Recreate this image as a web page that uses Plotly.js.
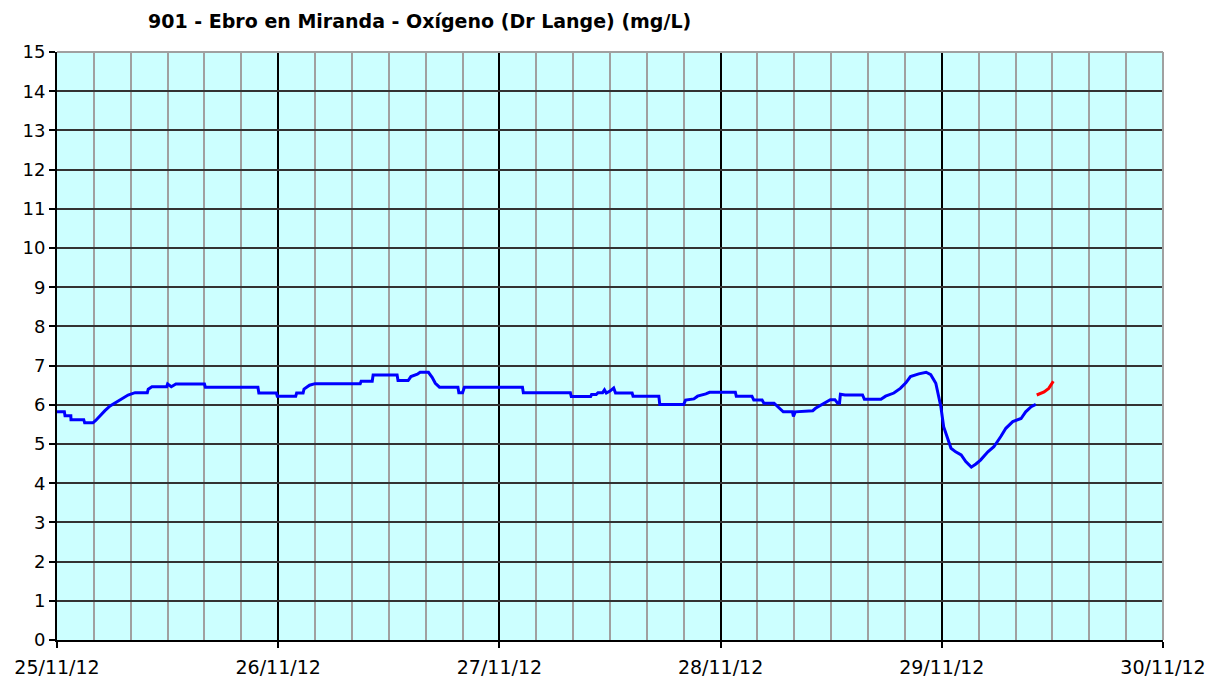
<!DOCTYPE html>
<html>
<head>
<meta charset="utf-8">
<script src="https://cdn.plot.ly/plotly-3.0.1.min.js"></script>
<style>html,body{margin:0;padding:0;background:#fff;}#chart{width:1222px;height:680px;}</style>
</head>
<body>
<div id="chart"></div>
<script>
// Hours after 25/11/2012 00:00 and oxygen (mg/L)
const startDate = "2012-11-25";
const blueHours = [0,0.8,0.87,1.5,1.52,2.9,3.0,3.9,4.2,4.67,5.2,5.76,6.3,6.84,7.3,7.71,8.47,9.8,9.9,10.3,11.9,12.0,12.4,12.9,16.0,16.1,21.8,21.9,23.8,23.9,25.9,26.0,26.7,26.8,27.4,28.0,32.9,33.0,34.2,34.3,36.9,37.0,38.1,38.4,39.1,39.4,40.3,40.7,41.05,41.5,43.5,43.6,44.0,44.2,50.5,50.6,55.7,55.8,57.9,58.0,58.5,58.7,59.2,59.4,59.6,60.0,60.4,60.6,62.4,62.5,65.3,65.4,68.0,68.2,69.1,69.5,70.4,70.8,73.6,73.7,75.4,75.6,76.5,76.7,77.8,78.4,78.8,79.8,79.9,80.1,82.0,82.3,83.4,83.9,84.4,84.7,84.9,85.0,85.5,87.4,87.6,89.4,89.9,90.8,91.5,92.1,92.6,93.5,94.3,94.8,95.35,95.6,95.9,96.2,96.7,97.0,97.5,98.1,98.6,99.2,99.7,100.2,101.0,101.65,102.4,102.95,103.7,104.6,105.1,105.7,106.2];
const blueOxygen = [5.82,5.82,5.72,5.72,5.62,5.62,5.54,5.54,5.6,5.72,5.85,5.97,6.05,6.12,6.2,6.25,6.31,6.31,6.4,6.46,6.46,6.53,6.46,6.53,6.53,6.45,6.45,6.3,6.3,6.22,6.22,6.3,6.3,6.4,6.5,6.54,6.54,6.6,6.6,6.76,6.76,6.62,6.62,6.72,6.78,6.83,6.83,6.7,6.55,6.45,6.45,6.31,6.31,6.45,6.45,6.31,6.31,6.21,6.21,6.26,6.26,6.31,6.31,6.38,6.3,6.35,6.43,6.3,6.3,6.22,6.22,6.01,6.01,6.12,6.15,6.22,6.28,6.32,6.32,6.22,6.22,6.12,6.12,6.04,6.04,5.9,5.82,5.82,5.7,5.82,5.85,5.91,6.05,6.13,6.13,6.04,6.04,6.27,6.25,6.25,6.14,6.14,6.22,6.3,6.42,6.56,6.72,6.79,6.83,6.77,6.55,6.3,5.95,5.44,5.1,4.89,4.8,4.72,4.55,4.41,4.49,4.59,4.8,4.93,5.19,5.4,5.57,5.65,5.82,5.95,6.01];
const redHours = [106.3,106.8,107.1,107.6,108.1];
const redOxygen = [6.25,6.3,6.33,6.42,6.6];
const titleText = "901 - Ebro en Miranda - Oxígeno (Dr Lange) (mg/L)";

function toDate(h) {
  const base = Date.UTC(2012, 10, 25);
  const d = new Date(base + Math.round(h * 3600000));
  const p = n => String(n).padStart(2, "0");
  return d.getUTCFullYear() + "-" + p(d.getUTCMonth() + 1) + "-" + p(d.getUTCDate()) + " " +
    p(d.getUTCHours()) + ":" + p(d.getUTCMinutes()) + ":" + p(d.getUTCSeconds());
}

const font = "DejaVu Sans, Verdana, sans-serif";
const traces = [
  {x: blueHours.map(toDate), y: blueOxygen, type: "scatter", mode: "lines",
   line: {color: "#0000ff", width: 3}, hoverinfo: "x+y", showlegend: false},
  {x: redHours.map(toDate), y: redOxygen, type: "scatter", mode: "lines",
   line: {color: "#ff0000", width: 3}, hoverinfo: "x+y", showlegend: false}
];

const layout = {
  width: 1222, height: 680,
  margin: {l: 57, r: 59, t: 52, b: 40},
  paper_bgcolor: "#ffffff",
  plot_bgcolor: "#ccffff",
  title: {text: "<b>" + titleText + "</b>", x: 148/1222, xanchor: "left", xref: "container",
          y: 1 - 21/680, yref: "container", yanchor: "middle",
          font: {family: font, size: 19, color: "#000"}},
  xaxis: {
    type: "date",
    range: ["2012-11-25 00:00:00", "2012-11-30 00:00:00"],
    tick0: "2012-11-25", dtick: 86400000, tickformat: "%d/%m/%y",
    showgrid: true, gridcolor: "#000000", gridwidth: 2,
    minor: {dtick: 4 * 3600000, tick0: "2012-11-25", showgrid: true, gridcolor: "#a0a0a0", gridwidth: 2, ticks: ""},
    ticks: "outside", ticklen: 6, tickcolor: "#000", tickwidth: 2,
    showline: true, linecolor: "#000", linewidth: 2,
    tickfont: {family: font, size: 19, color: "#000"},
    ticklabelstandoff: 3,
    zeroline: false, fixedrange: true
  },
  yaxis: {
    range: [0, 15], dtick: 1, tick0: 0,
    showgrid: true, gridcolor: "#333333", gridwidth: 2,
    ticks: "outside", ticklen: 6, tickcolor: "#000", tickwidth: 2,
    showline: true, linecolor: "#000", linewidth: 2,
    tickfont: {family: font, size: 18, color: "#000"},
    zeroline: false, fixedrange: true
  },
  shapes: [
    {type: "line", xref: "paper", yref: "paper", x0: 0, x1: 1, y0: 1, y1: 1, line: {color: "#a0a0a0", width: 2}, layer: "above"},
    {type: "line", xref: "paper", yref: "paper", x0: 1, x1: 1, y0: 0, y1: 1, line: {color: "#a0a0a0", width: 2}, layer: "above"}
  ]
};

Plotly.newPlot("chart", traces, layout, {displayModeBar: false, staticPlot: true});
</script>
</body>
</html>
